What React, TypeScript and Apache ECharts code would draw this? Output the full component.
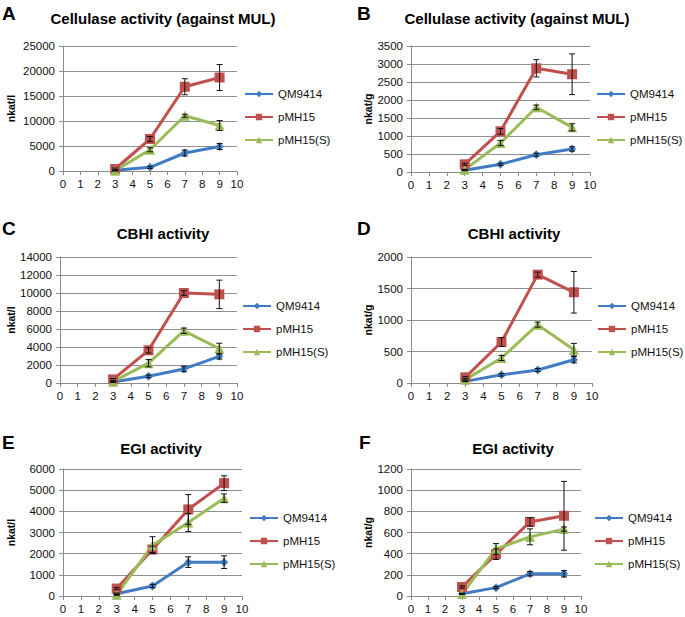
import React, { useEffect, useRef } from "react";
import * as echarts from "echarts";

// ---- data ----
const days = [3, 5, 7, 9];
const seriesNames = ["QM9414", "pMH15", "pMH15(S)"];

// A: Cellulase activity, nkat/l
const cellL_QM = [130, 730, 3600, 4900];
const cellL_QM_err = [100, 200, 600, 600];
const cellL_PMH = [400, 6400, 16850, 18700];
const cellL_PMH_err = [200, 500, 1600, 2600];
const cellL_PMHS = [70, 4250, 11050, 9100];
const cellL_PMHS_err = [50, 400, 300, 1000];

// B: Cellulase activity, nkat/g
const cellG_QM = [46, 213, 481, 640];
const cellG_QM_err = [10, 30, 40, 60];
const cellG_PMH = [213, 1130, 2880, 2715];
const cellG_PMH_err = [30, 80, 240, 565];
const cellG_PMHS = [65, 805, 1800, 1240];
const cellG_PMHS_err = [10, 70, 60, 100];

// C: CBHI activity, nkat/l
const cbhL_QM = [100, 740, 1560, 2960];
const cbhL_QM_err = [50, 150, 300, 300];
const cbhL_PMH = [400, 3630, 10000, 9850];
const cbhL_PMH_err = [100, 300, 250, 1580];
const cbhL_PMHS = [150, 2200, 5800, 3820];
const cbhL_PMHS_err = [50, 400, 300, 600];

// D: CBHI activity, nkat/g
const cbhG_QM = [26, 130, 206, 370];
const cbhG_QM_err = [5, 20, 25, 50];
const cbhG_PMH = [90, 650, 1720, 1440];
const cbhG_PMH_err = [15, 70, 40, 330];
const cbhG_PMHS = [53, 397, 926, 529];
const cbhG_PMHS_err = [10, 40, 40, 100];

// E: EGI activity, nkat/l
const egL_QM = [110, 470, 1600, 1600];
const egL_QM_err = [30, 80, 250, 300];
const egL_PMH = [350, 2200, 4090, 5330];
const egL_PMH_err = [50, 150, 700, 350];
const egL_PMHS = [60, 2400, 3470, 4620];
const egL_PMHS_err = [30, 400, 420, 200];

// F: EGI activity, nkat/g
const egG_QM = [22, 79, 210, 210];
const egG_QM_err = [5, 10, 20, 30];
const egG_PMH = [85, 395, 700, 758];
const egG_PMH_err = [10, 50, 40, 325];
const egG_PMHS = [19, 445, 559, 632];
const egG_PMHS_err = [5, 50, 75, 20];

const panelLetters = ["A", "B", "C", "D", "E", "F"];
const panelTitles = [
  "Cellulase activity (against MUL)",
  "Cellulase activity (against MUL)",
  "CBHI activity",
  "CBHI activity",
  "EGI activity",
  "EGI activity",
];
const panelUnits = ["nkat/l", "nkat/g", "nkat/l", "nkat/g", "nkat/l", "nkat/g"];
const yMaxes = [25000, 3500, 14000, 2000, 6000, 1200];
const yIntervals = [5000, 500, 2000, 500, 1000, 200];
const xMin = 0;
const xMax = 10;
const xInterval = 1;

const panelValues = [
  [cellL_QM, cellL_PMH, cellL_PMHS],
  [cellG_QM, cellG_PMH, cellG_PMHS],
  [cbhL_QM, cbhL_PMH, cbhL_PMHS],
  [cbhG_QM, cbhG_PMH, cbhG_PMHS],
  [egL_QM, egL_PMH, egL_PMHS],
  [egG_QM, egG_PMH, egG_PMHS],
];
const panelErrors = [
  [cellL_QM_err, cellL_PMH_err, cellL_PMHS_err],
  [cellG_QM_err, cellG_PMH_err, cellG_PMHS_err],
  [cbhL_QM_err, cbhL_PMH_err, cbhL_PMHS_err],
  [cbhG_QM_err, cbhG_PMH_err, cbhG_PMHS_err],
  [egL_QM_err, egL_PMH_err, egL_PMHS_err],
  [egG_QM_err, egG_PMH_err, egG_PMHS_err],
];

// ---- layout / style ----
const grids = [
  { left: 63, top: 46, width: 174, height: 125 },
  { left: 411, top: 46, width: 179, height: 126 },
  { left: 60, top: 257, width: 177, height: 126 },
  { left: 411, top: 257, width: 181, height: 126 },
  { left: 63, top: 469, width: 179, height: 127 },
  { left: 411, top: 469, width: 170, height: 127 },
];
const legendPos = [
  { left: 244, top: 86 },
  { left: 596, top: 86 },
  { left: 242, top: 298 },
  { left: 597, top: 298 },
  { left: 249, top: 510 },
  { left: 594, top: 510 },
];
const titlePos = [
  { x: 163, y: 18 },
  { x: 517, y: 18 },
  { x: 163, y: 233 },
  { x: 514, y: 233 },
  { x: 161, y: 448 },
  { x: 513, y: 448 },
];
const letterPos = [
  { x: 2, y: 13 },
  { x: 357, y: 13 },
  { x: 2, y: 228 },
  { x: 357, y: 228 },
  { x: 2, y: 442 },
  { x: 359, y: 442 },
];
const nameGaps = [47, 36, 44, 36, 47, 36];
const colors = ["#3f7cc4", "#c0504d", "#9bbb59"];
const symbols = ["diamond", "rect", "triangle"];
const symbolSizes = [[8, 9], 10, 10];
const FONT = "'Liberation Sans', Arial, Helvetica, sans-serif";

export default function App() {
  const ref = useRef<HTMLDivElement>(null);
  useEffect(() => {
    if (!ref.current) return;
    const chart = echarts.init(ref.current, null, { renderer: "svg" });

    const xAxis: any[] = [];
    const yAxis: any[] = [];
    const series: any[] = [];
    const legend: any[] = [];
    const graphic: any[] = [];

    grids.forEach((g, i) => {
      xAxis.push({
        type: "value",
        gridIndex: i,
        min: xMin,
        max: xMax,
        interval: xInterval,
        axisLine: { show: true, lineStyle: { color: "#8a8a8a", width: 1 } },
        axisTick: { show: true, length: 4, lineStyle: { color: "#8a8a8a" } },
        splitLine: { show: false },
        axisLabel: {
          color: "#111",
          fontSize: 11.5,
          fontFamily: FONT,
          margin: 7,
          formatter: (v: number) => String(v),
        },
      });
      yAxis.push({
        type: "value",
        gridIndex: i,
        min: 0,
        max: yMaxes[i],
        interval: yIntervals[i],
        name: panelUnits[i],
        nameLocation: "middle",
        nameRotate: 90,
        nameGap: nameGaps[i],
        nameTextStyle: { fontWeight: "bold", fontSize: 10.5, fontFamily: FONT, color: "#000" },
        axisLine: { show: true, lineStyle: { color: "#8a8a8a", width: 1 } },
        axisTick: { show: true, length: 4, lineStyle: { color: "#8a8a8a" } },
        splitLine: { show: true, lineStyle: { color: "#8f8f8f", width: 1 } },
        axisLabel: {
          color: "#111",
          fontSize: 11.5,
          fontFamily: FONT,
          margin: 8,
          formatter: (v: number) => String(v),
        },
      });

      seriesNames.forEach((name, s) => {
        const vals = panelValues[i][s];
        const errs = panelErrors[i][s];
        series.push({
          type: "line",
          name,
          xAxisIndex: i,
          yAxisIndex: i,
          data: days.map((d, k) => [d, vals[k]]),
          symbol: symbols[s],
          symbolSize: symbolSizes[s],
          lineStyle: { color: colors[s], width: 3 },
          itemStyle: { color: colors[s] },
          z: 3,
        });
        series.push({
          type: "custom",
          name: name + " error",
          xAxisIndex: i,
          yAxisIndex: i,
          data: days.map((d, k) => [d, vals[k], errs[k]]),
          encode: { x: 0, y: 1 },
          z: 4,
          silent: true,
          renderItem: (params: any, api: any) => {
            const x = api.value(0);
            const y = api.value(1);
            const e = api.value(2);
            const top = api.coord([x, y + e]);
            const bot = api.coord([x, y - e]);
            const hw = 3;
            const st = { stroke: "#111", lineWidth: 1 };
            return {
              type: "group",
              children: [
                { type: "line", shape: { x1: top[0], y1: top[1], x2: bot[0], y2: bot[1] }, style: st },
                { type: "line", shape: { x1: top[0] - hw, y1: top[1], x2: top[0] + hw, y2: top[1] }, style: st },
                { type: "line", shape: { x1: bot[0] - hw, y1: bot[1], x2: bot[0] + hw, y2: bot[1] }, style: st },
              ],
            };
          },
        });
      });

      legend.push({
        orient: "vertical",
        left: legendPos[i].left,
        top: legendPos[i].top + 1,
        data: seriesNames,
        itemWidth: 28,
        itemHeight: 8,
        itemGap: 9,
        padding: 0,
        selectedMode: false,
        textStyle: { fontSize: 11.5, fontFamily: FONT, color: "#111", lineHeight: 14 },
      });

      graphic.push({
        type: "text",
        x: titlePos[i].x,
        y: titlePos[i].y,
        style: {
          text: panelTitles[i],
          font: "bold 15px " + FONT,
          fill: "#000",
          textAlign: "center",
          textVerticalAlign: "middle",
        },
      });
      graphic.push({
        type: "text",
        x: letterPos[i].x,
        y: letterPos[i].y,
        style: {
          text: panelLetters[i],
          font: "bold 19px " + FONT,
          fill: "#000",
          textAlign: "left",
          textVerticalAlign: "middle",
        },
      });
    });

    chart.setOption({
      animation: false,
      backgroundColor: "#fff",
      grid: grids,
      xAxis,
      yAxis,
      series,
      legend,
      graphic,
    });
    return () => chart.dispose();
  }, []);

  return (
    <div
      ref={ref}
      style={{ position: "fixed", left: 0, top: 0, width: 685, height: 617, background: "#fff" }}
    />
  );
}
